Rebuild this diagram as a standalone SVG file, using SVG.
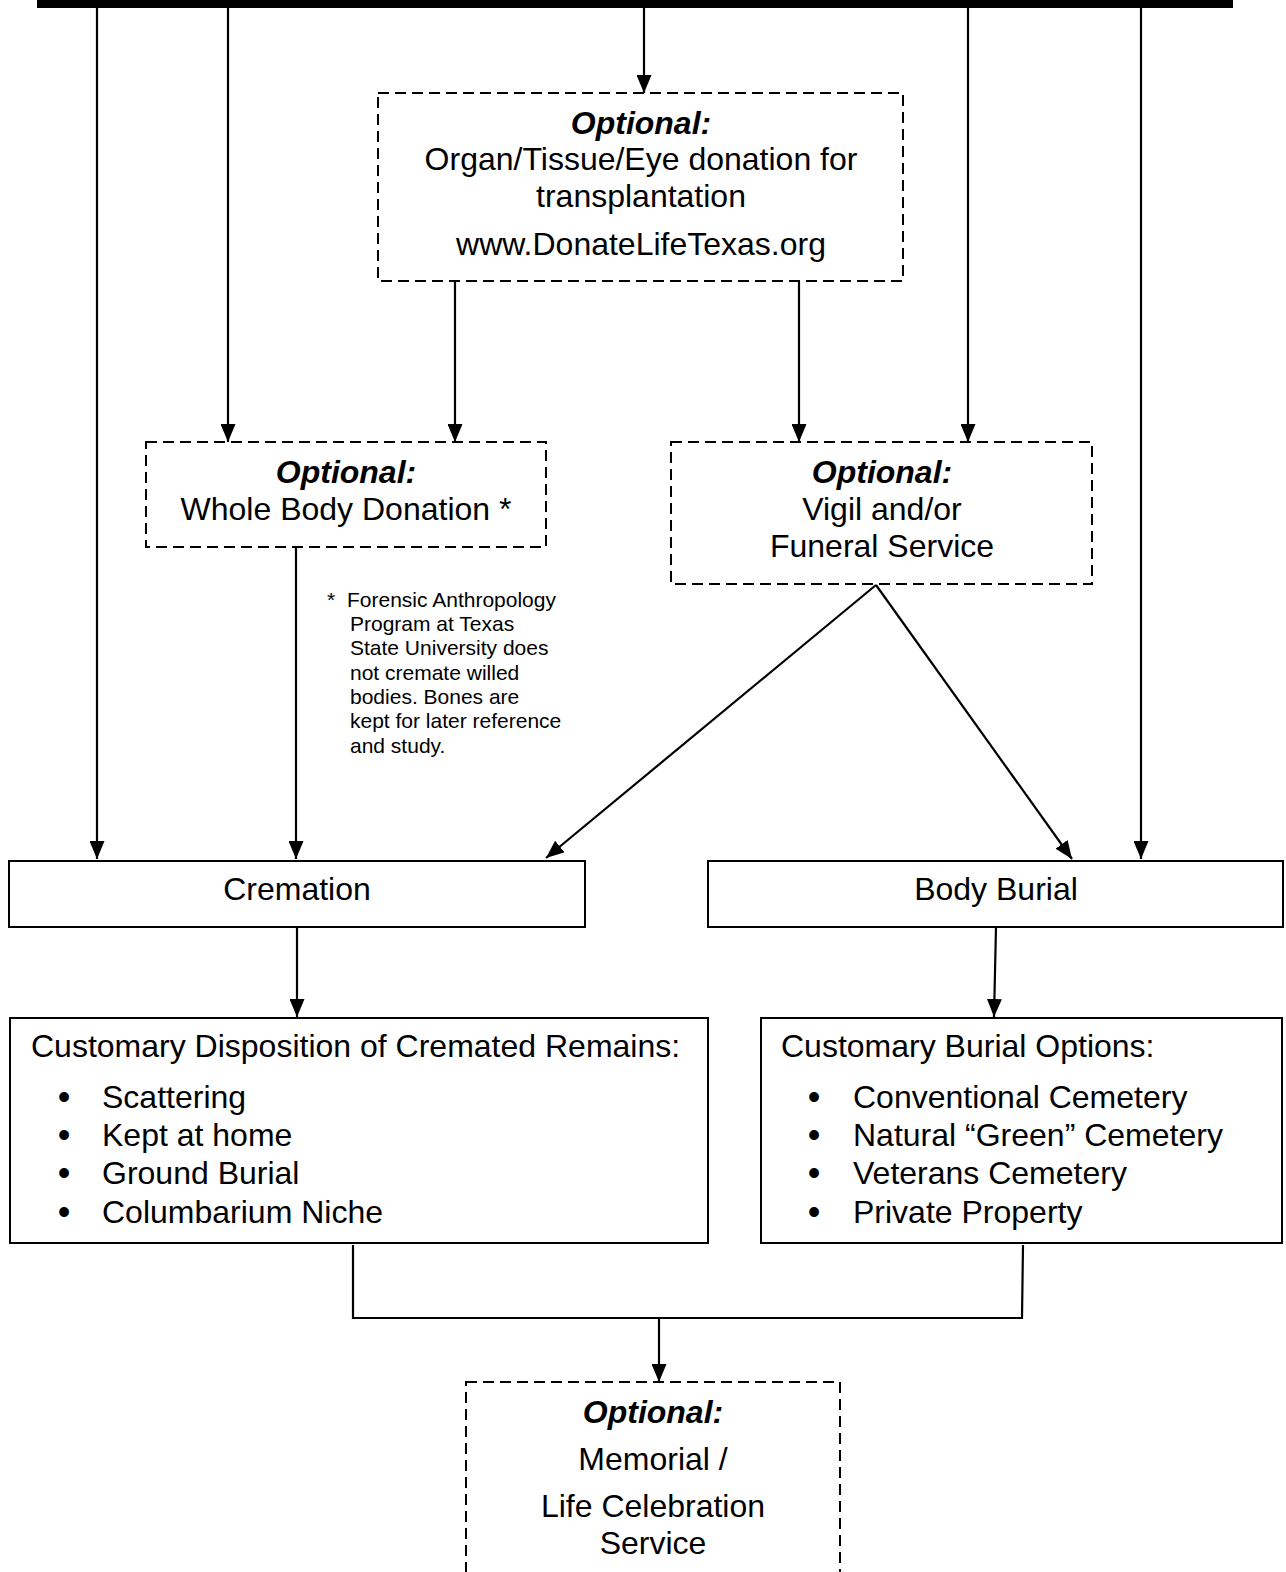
<svg xmlns="http://www.w3.org/2000/svg" width="1286" height="1572" viewBox="0 0 1286 1572">
<defs>
<marker id="ah" markerWidth="18" markerHeight="15" refX="18" refY="7.5" orient="auto" markerUnits="userSpaceOnUse">
<path d="M0,0 L18,7.5 L0,15 z" fill="#000"/>
</marker>
</defs>
<style>
text{font-family:"Liberation Sans",Arial,sans-serif;fill:#000}
.t{font-size:32px}
.c{text-anchor:middle}
.o{font-weight:bold;font-style:italic}
.f{font-size:21px}
.b{font-size:36px}
.box{fill:#fff;stroke:#000;stroke-width:2}
.dash{fill:#fff;stroke:#000;stroke-width:2;stroke-dasharray:11 6}
.ln{fill:none;stroke:#000;stroke-width:2.2}
.ar{fill:none;stroke:#000;stroke-width:2.2;marker-end:url(#ah)}
</style>
<rect id="topbar" x="37" y="0" width="1196" height="8" fill="#000"/>
<g id="connectors">
<line class="ar" x1="97" y1="8" x2="97" y2="859"/>
<line class="ar" x1="228" y1="8" x2="228" y2="442"/>
<line class="ar" x1="644" y1="8" x2="644" y2="93"/>
<line class="ar" x1="968" y1="8" x2="968" y2="442"/>
<line class="ar" x1="1141" y1="8" x2="1141" y2="859"/>
<line class="ar" x1="455" y1="281" x2="455" y2="442"/>
<line class="ar" x1="799" y1="281" x2="799" y2="442"/>
<line class="ar" x1="296" y1="547" x2="296" y2="859"/>
<line class="ar" x1="876" y1="585" x2="546" y2="858"/>
<line class="ar" x1="876" y1="585" x2="1072" y2="859"/>
<line class="ar" x1="297" y1="927" x2="297" y2="1017"/>
<line class="ar" x1="996" y1="927" x2="994" y2="1017"/>
<path class="ln" d="M353,1245 L353,1318 L1022,1318 L1023,1245"/>
<line class="ar" x1="659" y1="1318" x2="659" y2="1382"/>
</g>
<g id="organ">
<rect class="dash" x="378" y="93" width="525" height="188"/>
<text class="t c o" x="641" y="134">Optional:</text>
<text class="t c" x="641" y="170">Organ/Tissue/Eye donation for</text>
<text class="t c" x="641" y="207">transplantation</text>
<text class="t c" x="641" y="255">www.DonateLifeTexas.org</text>
</g>
<g id="wholebody">
<rect class="dash" x="146" y="442" width="400" height="105"/>
<text class="t c o" x="346" y="483">Optional:</text>
<text class="t c" x="346" y="520">Whole Body Donation *</text>
</g>
<g id="footnote">
<text class="f" x="327" y="607">*</text>
<text class="f" x="347" y="607">Forensic Anthropology</text>
<text class="f" x="350" y="631">Program at Texas</text>
<text class="f" x="350" y="655">State University does</text>
<text class="f" x="350" y="680">not cremate willed</text>
<text class="f" x="350" y="704">bodies. Bones are</text>
<text class="f" x="350" y="728">kept for later reference</text>
<text class="f" x="350" y="753">and study.</text>
</g>
<g id="vigil">
<rect class="dash" x="671" y="442" width="421" height="142"/>
<text class="t c o" x="882" y="483">Optional:</text>
<text class="t c" x="882" y="520">Vigil and/or</text>
<text class="t c" x="882" y="557">Funeral Service</text>
</g>
<g id="cremation">
<rect class="box" x="9" y="861" width="576" height="66"/>
<text class="t c" x="297" y="900">Cremation</text>
</g>
<g id="burial">
<rect class="box" x="708" y="861" width="575" height="66"/>
<text class="t c" x="996" y="900">Body Burial</text>
</g>
<g id="disposition">
<rect class="box" x="10" y="1018" width="698" height="225"/>
<text class="t" x="31" y="1057">Customary Disposition of Cremated Remains:</text>
<text class="b c" x="64" y="1109">•</text><text class="t" x="102" y="1108">Scattering</text>
<text class="b c" x="64" y="1147">•</text><text class="t" x="102" y="1146">Kept at home</text>
<text class="b c" x="64" y="1185">•</text><text class="t" x="102" y="1184">Ground Burial</text>
<text class="b c" x="64" y="1224">•</text><text class="t" x="102" y="1223">Columbarium Niche</text>
</g>
<g id="burialoptions">
<rect class="box" x="761" y="1018" width="521" height="225"/>
<text class="t" x="781" y="1057">Customary Burial Options:</text>
<text class="b c" x="814" y="1109">•</text><text class="t" x="853" y="1108">Conventional Cemetery</text>
<text class="b c" x="814" y="1147">•</text><text class="t" x="853" y="1146">Natural “Green” Cemetery</text>
<text class="b c" x="814" y="1185">•</text><text class="t" x="853" y="1184">Veterans Cemetery</text>
<text class="b c" x="814" y="1224">•</text><text class="t" x="853" y="1223">Private Property</text>
</g>
<g id="memorial">
<rect class="dash" x="466" y="1382" width="374" height="240"/>
<text class="t c o" x="653" y="1423">Optional:</text>
<text class="t c" x="653" y="1470">Memorial /</text>
<text class="t c" x="653" y="1517">Life Celebration</text>
<text class="t c" x="653" y="1554">Service</text>
</g>
</svg>
